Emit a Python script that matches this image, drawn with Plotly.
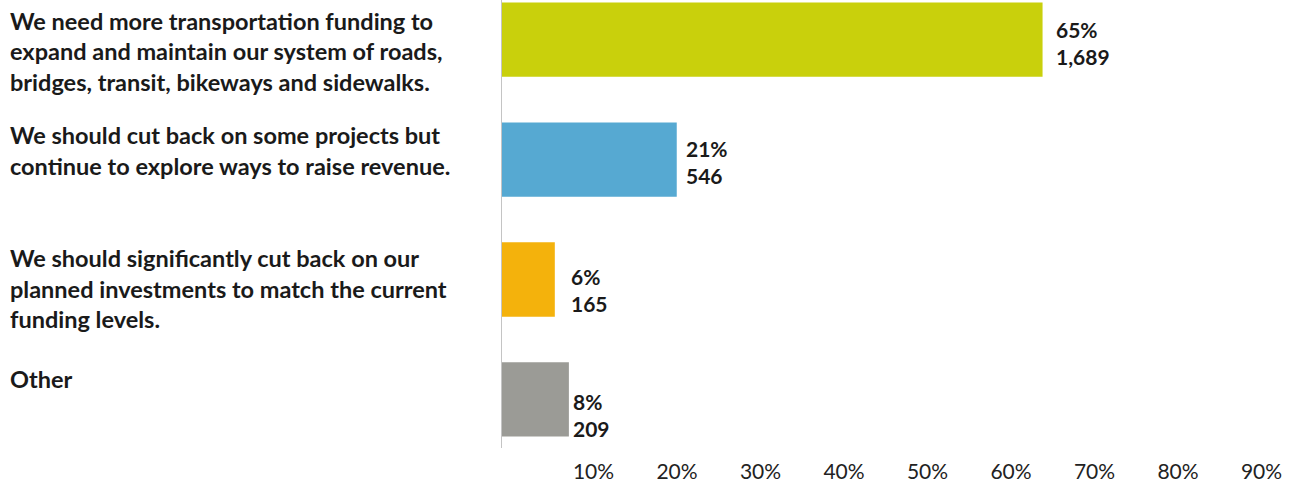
import plotly.graph_objects as go

# ---- data ----
categories = [
    "We need more transportation funding to<br>expand and maintain our system of roads,<br>bridges, transit, bikeways and sidewalks.",
    "We should cut back on some projects but<br>continue to explore ways to raise revenue.",
    "We should significantly cut back on our<br>planned investments to match the current<br>funding levels.",
    "Other",
]
counts = [1689, 546, 165, 209]
percent_labels = [65, 21, 6, 8]
tick_values = [10, 20, 30, 40, 50, 60, 70, 80, 90]

# ---- styles ----
colors = ["#c9d00c", "#56a9d2", "#f4b20c", "#9b9b96"]
total = sum(counts)
shares = [c / total * 100 for c in counts]

W, H = 1290, 483
ML, MB = 502, 31
plot_w = W - ML
px_per_pct = 8.35
xmax = plot_w / px_per_pct
row_px = 121.0
top_center = 40.0
plot_h = H - MB
y_top = -top_center / row_px
y_bot = (plot_h - top_center) / row_px

fig = go.Figure()
fig.add_trace(go.Bar(
    x=shares, y=categories, orientation="h",
    marker=dict(color=colors, line=dict(width=0)),
    width=0.62, hoverinfo="skip",
))

text_color = "#1a1a1a"
ann = []
# left category labels (one annotation per line for exact line spacing)
left_block_shift = [-11.5, 9, -9, 20.5]
line_gap = 30.5
for i, cat in enumerate(categories):
    lines = cat.split("<br>")
    n = len(lines)
    for j, ln in enumerate(lines):
        ann.append(dict(
            x=(8 - ML) / plot_w, xref="paper", y=cat, yref="y",
            text=ln, showarrow=False, xanchor="left", yanchor="middle",
            align="left", yshift=left_block_shift[i] - (j - (n - 1) / 2) * line_gap,
            font=dict(family="Lato", size=23.5, color=text_color, weight="bold"),
        ))

# value labels to the right of each bar
val_xshift = [11, 7, 14, 2]
val_yshift = [-3.5, -2, -10, -15.5]
val_gap = 27
for i, cat in enumerate(categories):
    for j, txt in enumerate([f"{percent_labels[i]}%", f"{counts[i]:,}"]):
        ann.append(dict(
            x=shares[i], xref="x", y=cat, yref="y", text=txt, showarrow=False,
            xanchor="left", yanchor="middle", xshift=val_xshift[i],
            yshift=val_yshift[i] - (j - 0.5) * val_gap,
            font=dict(family="Lato", size=21, color=text_color, weight="bold"),
        ))

fig.update_layout(
    width=W, height=H,
    margin=dict(l=ML, r=0, t=0, b=MB),
    paper_bgcolor="white", plot_bgcolor="white",
    showlegend=False, annotations=ann,
    xaxis=dict(range=[0, xmax], tickvals=tick_values,
               ticktext=[f"{v}%" for v in tick_values],
               showgrid=False, zeroline=False, showline=False,
               ticks="outside", ticklen=5, tickcolor="rgba(0,0,0,0)",
               ticklabelshift=8, fixedrange=True,
               tickfont=dict(family="Lato", size=21, color="#222222")),
    yaxis=dict(type="category", categoryorder="array", categoryarray=categories,
               range=[y_bot, y_top], showticklabels=False, showgrid=False,
               zeroline=False, showline=True, linecolor="#c4c4c4", linewidth=1,
               ticks="", fixedrange=True),
)

fig.write_html("out.html", config={"displayModeBar": False})
